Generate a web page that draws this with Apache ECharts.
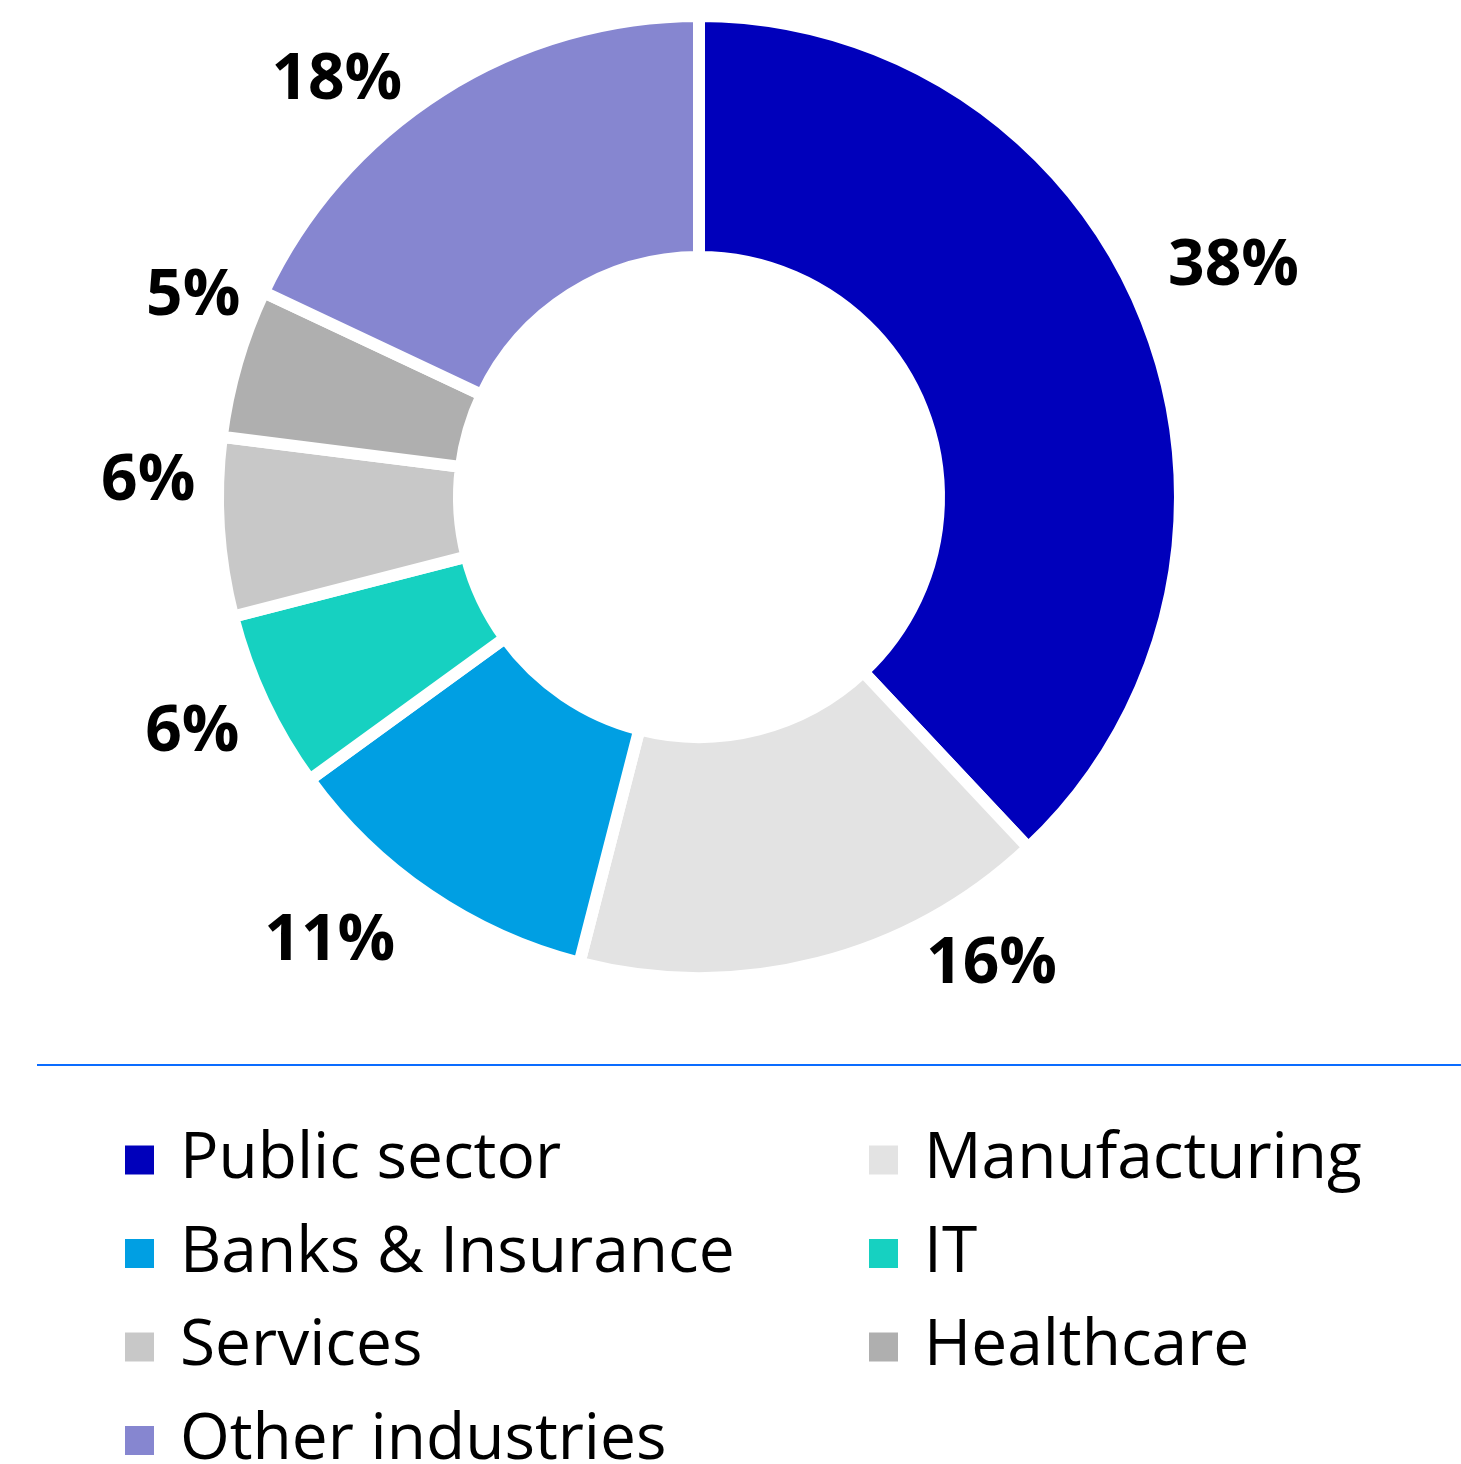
<!DOCTYPE html>
<html>
<head>
<meta charset="utf-8">
<script src="https://cdn.jsdelivr.net/npm/echarts@6/dist/echarts.min.js"></script>
<style>
html,body{margin:0;padding:0;background:#fff;}
#chart{width:1461px;height:1464px;}
</style>
</head>
<body>
<div id="chart"></div>
<script>
const categories = ['Public sector', 'Manufacturing', 'Banks & Insurance', 'IT', 'Services', 'Healthcare', 'Other industries'];
const values = [38, 16, 11, 6, 6, 5, 18];
const colors = ['#0000BB', '#E3E3E3', '#009FE3', '#16D1C1', '#C8C8C8', '#AFAFAF', '#8686D0'];
const leftLegend = ['Public sector', 'Banks & Insurance', 'Services', 'Other industries'];
const rightLegend = ['Manufacturing', 'IT', 'Healthcare'];

// label placement (layout only): radial distance and angular nudge (degrees)
const labelRadius = [582, 552, 578, 559, 551, 544, 552];
const labelNudge = [-1.7, -17.6, 5.5, 0.2, 5.2, 5.4, -8.6];

const CX = 699, CY = 497;
const total = values.reduce((a, b) => a + b, 0);
const midAngles = [];
let acc = 0;
values.forEach(v => { midAngles.push((acc + v / 2) / total * 360); acc += v; });

const chart = echarts.init(document.getElementById('chart'));
const legendText = { fontFamily: 'Open Sans', fontSize: 64, color: '#000', padding: [0, 0, 0, 20] };
const legendBase = { orient: 'vertical', top: 1128, height: 420, padding: 0, itemWidth: 31, itemHeight: 31, itemGap: 29.5, icon: 'rect', textStyle: legendText, selectedMode: false };
chart.setOption({
  color: colors,
  animation: false,
  legend: [
    Object.assign({ data: leftLegend, left: 123 }, legendBase),
    Object.assign({ data: rightLegend, left: 867 }, legendBase)
  ],
  graphic: [{
    type: 'line', shape: { x1: 37, y1: 1065, x2: 1461, y2: 1065 },
    style: { stroke: '#0A6CFF', lineWidth: 2 }, silent: true
  }],
  series: [{
    type: 'pie',
    center: [CX, CY],
    radius: [240, 481],
    startAngle: 90,
    clockwise: true,
    avoidLabelOverlap: false,
    itemStyle: { borderColor: '#fff', borderWidth: 12 },
    label: {
      show: true, position: 'outside',
      formatter: '{c}%',
      fontFamily: 'Open Sans', fontWeight: 'bold', fontSize: 64, color: '#000'
    },
    labelLine: { show: false },
    labelLayout: function (p) {
      const i = p.dataIndex;
      const a = (midAngles[i] + labelNudge[i]) * Math.PI / 180;
      const r = labelRadius[i];
      return { x: CX + r * Math.sin(a), y: CY - r * Math.cos(a), align: 'center', verticalAlign: 'middle' };
    },
    emphasis: { disabled: true },
    data: categories.map((c, i) => ({ name: c, value: values[i] }))
  }]
});
</script>
</body>
</html>
